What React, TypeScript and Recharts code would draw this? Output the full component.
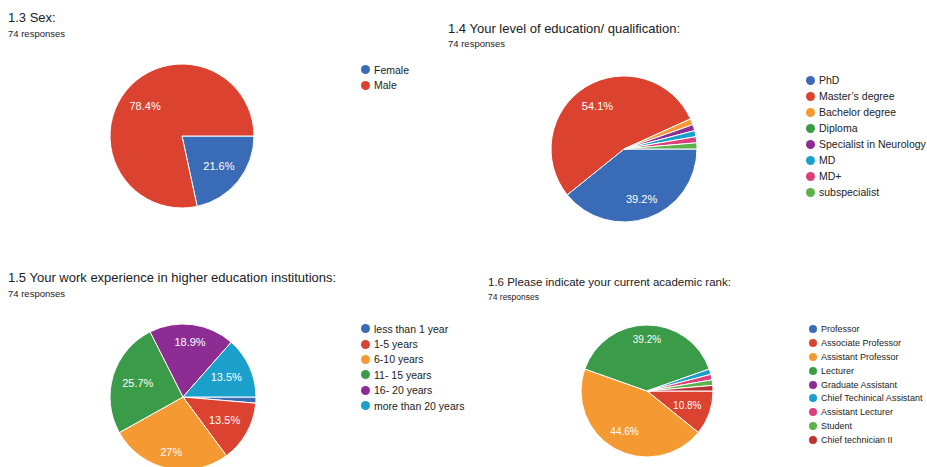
import React from 'react';
import { PieChart, Pie, Cell } from 'recharts';

// --- Data ---

const sexLabels = ['Female', 'Male'];
const sexValues = [16, 58];

const eduLabels = ['PhD', 'Master’s degree', 'Bachelor degree', 'Diploma', 'Specialist in Neurology', 'MD', 'MD+', 'subspecialist'];
const eduValues = [29, 40, 1, 0, 1, 1, 1, 1];

const expLabels = ['less than 1 year', '1-5 years', '6-10 years', '11- 15 years', '16- 20 years', 'more than 20 years'];
const expValues = [1, 10, 20, 19, 14, 10];

const rankLabels = ['Professor', 'Associate Professor', 'Assistant Professor', 'Lecturer', 'Graduate Assistant', 'Chief Techinical Assistant', 'Assistant Lecturer', 'Student', 'Chief technician II'];
const rankValues = [0, 8, 33, 29, 0, 1, 1, 1, 1];

const palette = ['#3a6bb7', '#db4330', '#f59a33', '#3a9b48', '#8d2d94', '#1b9fcb', '#dc3f7b', '#5db14a', '#b53333'];

const FONT = '"Liberation Sans", Arial, sans-serif';
const RAD = Math.PI / 180;

const toRows = (labels: string[], values: number[]) => labels.map((name, i) => ({ name, value: values[i] }));

const fmtPct = (p: number) => {
  const s = (p * 100).toFixed(1);
  return (s.endsWith('.0') ? s.slice(0, -2) : s) + '%';
};

// rough text width in em for Arial-like digits
const textEm = (s: string) => s.split('').reduce((w, ch) => w + (ch === '.' ? 0.278 : ch === '%' ? 0.889 : 0.556), 0);

// label sits so that its outer box corner touches ~0.87 of the radius (like Google Charts)
const makeLabel = (fontSize: number) => (props: any) => {
  const { cx, cy, midAngle, outerRadius, percent } = props;
  if (percent < 0.05) return null;
  const txt = fmtPct(percent);
  const ux = Math.cos(-midAngle * RAD);
  const uy = Math.sin(-midAngle * RAD);
  const a = (textEm(txt) * fontSize) / 2;
  const b = fontSize * 0.4;
  const us = Math.abs(ux) * a + Math.abs(uy) * b;
  const kR = outerRadius * 0.87;
  const d = -us + Math.sqrt(us * us - (a * a + b * b) + kR * kR);
  const x = cx + d * ux;
  const y = cy + d * uy;
  return (
    <text x={x} y={y} fill="#fff" fontSize={fontSize} fontFamily={FONT} textAnchor="middle" dominantBaseline="central">
      {txt}
    </text>
  );
};

interface LegendProps {
  labels: string[];
  left: number;
  top: number;
  step: number;
  fontSize: number;
  dot: number;
}

const LegendList: React.FC<LegendProps> = ({ labels, left, top, step, fontSize, dot }) => (
  <div style={{ position: 'absolute', left, top, fontFamily: FONT, fontSize, color: '#222' }}>
    {labels.map((l, i) => (
      <div key={l} style={{ position: 'absolute', top: i * step, left: 0, height: step, display: 'flex', alignItems: 'center', whiteSpace: 'nowrap' }}>
        <span style={{ width: dot, height: dot, borderRadius: '50%', background: palette[i], display: 'inline-block', marginRight: 4 }} />
        {l}
      </div>
    ))}
  </div>
);

const Title: React.FC<{ text: string; left: number; top: number; fontSize: number; subTop: number; subSize: number }> = ({ text, left, top, fontSize, subTop, subSize }) => (
  <>
    <div style={{ position: 'absolute', left, top, fontFamily: FONT, fontSize, color: '#202124', whiteSpace: 'nowrap' }}>{text}</div>
    <div style={{ position: 'absolute', left, top: subTop, fontFamily: FONT, fontSize: subSize, color: '#202124', whiteSpace: 'nowrap' }}>74 responses</div>
  </>
);

const App: React.FC = () => {
  const charts = [
    { data: toRows(sexLabels, sexValues), cx: 182, cy: 136, r: 72, fs: 11 },
    { data: toRows(eduLabels, eduValues), cx: 624, cy: 149, r: 73, fs: 11 },
    { data: toRows(expLabels, expValues), cx: 183, cy: 397, r: 73, fs: 11 },
    { data: toRows(rankLabels, rankValues), cx: 647, cy: 391, r: 66, fs: 10 },
  ];
  return (
    <div style={{ position: 'relative', width: 927, height: 467, background: '#fff', overflow: 'hidden' }}>
      <style>{'body{margin:0}'}</style>
      <div style={{ position: 'absolute', left: 0, top: 0 }}>
        <PieChart width={927} height={467} margin={{ top: 0, right: 0, bottom: 0, left: 0 }}>
          {charts.map((c, k) => (
            <Pie
              key={k}
              data={c.data}
              dataKey="value"
              nameKey="name"
              cx={c.cx}
              cy={c.cy}
              outerRadius={c.r}
              startAngle={0}
              endAngle={-360}
              stroke="#fff"
              strokeWidth={1}
              labelLine={false}
              label={makeLabel(c.fs)}
              isAnimationActive={false}
            >
              {c.data.map((d, i) => (
                <Cell key={d.name} fill={palette[i]} />
              ))}
            </Pie>
          ))}
        </PieChart>
      </div>

      <Title text="1.3 Sex:" left={8} top={10} fontSize={13} subTop={28} subSize={9.5} />
      <LegendList labels={sexLabels} left={361} top={62} step={15.5} fontSize={10.5} dot={9} />

      <Title text="1.4 Your level of education/ qualification:" left={448} top={21} fontSize={13} subTop={38} subSize={9.5} />
      <LegendList labels={eduLabels} left={806} top={72} step={16} fontSize={10.5} dot={9} />

      <Title text="1.5 Your work experience in higher education institutions:" left={8} top={270} fontSize={13} subTop={288} subSize={9.5} />
      <LegendList labels={expLabels} left={361} top={321} step={15.4} fontSize={10.5} dot={9} />

      <Title text="1.6 Please indicate your current academic rank:" left={488} top={276} fontSize={11.5} subTop={292} subSize={8.5} />
      <LegendList labels={rankLabels} left={809} top={322} step={13.9} fontSize={9} dot={8} />
    </div>
  );
};

export default App;
